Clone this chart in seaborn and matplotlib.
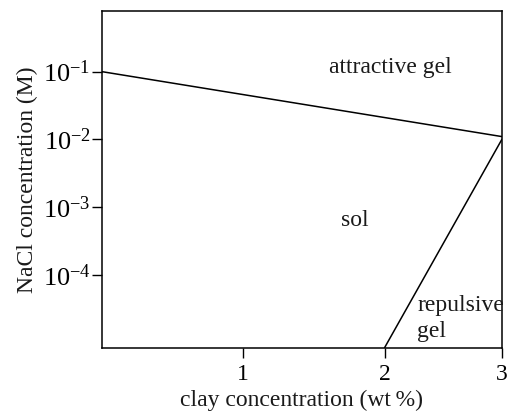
# Clay phase diagram (sol / attractive gel / repulsive gel)

import matplotlib
matplotlib.use("Agg")
import matplotlib.pyplot as plt
import numpy as np
import pandas as pd
import seaborn as sns
from matplotlib.ticker import NullLocator

# boundary lines
upper_clay = [0.0, 3.0]
upper_nacl = [1.0e-1, 1.1e-2]
lower_clay = [2.0, 3.0]
lower_nacl = [8.4e-6, 1.0e-2]

x_ticks = [1, 2, 3]
y_ticks = [1e-4, 1e-3, 1e-2, 1e-1]

region_labels = ["attractive gel", "sol", "repulsive\ngel"]
region_x = [2.05, 1.79, 2.28]
region_y = [1.15e-1, 6.3e-4, 2.25e-5]

# the original x axis is squeezed between 2 and 3 wt%
SQUEEZE = 0.83


def fwd(x):
    x = np.asarray(x, dtype=float)
    return np.where(x <= 2, x, 2 + (x - 2) * SQUEEZE)


def inv(y):
    y = np.asarray(y, dtype=float)
    return np.where(y <= 2, y, 2 + (y - 2) / SQUEEZE)


sns.set_theme(style="ticks")
plt.rcParams["font.family"] = ["Liberation Serif", "DejaVu Serif"]
plt.rcParams["mathtext.fontset"] = "stix"

fig, ax = plt.subplots(figsize=(5.09, 4.16), dpi=100)

df = pd.DataFrame({
    "clay": upper_clay + lower_clay,
    "nacl": upper_nacl + lower_nacl,
    "line": ["upper"] * 2 + ["lower"] * 2,
})
sns.lineplot(data=df, x="clay", y="nacl", units="line", estimator=None,
             color="black", linewidth=1.1, ax=ax, legend=False)

ax.set_xscale("function", functions=(fwd, inv))
ax.set_yscale("log")
ax.set_xlim(0, 3)
ax.set_ylim(8.4e-6, 0.79)
ax.set_xticks(x_ticks)
ax.set_xticklabels([str(t) for t in x_ticks])
ax.xaxis.set_minor_locator(NullLocator())
ax.set_yticks(y_ticks)
ax.yaxis.set_minor_locator(NullLocator())

for lab, xx, yy in zip(region_labels, region_x, region_y):
    ha = "left" if "\n" in lab else "center"
    ax.text(xx, yy, lab, ha=ha, va="center", fontsize=17, color="#1a1a1a",
            linespacing=1.32)

for s in ax.spines.values():
    s.set_visible(True)
    s.set_linewidth(1.1)
    s.set_color("black")
ax.tick_params(direction="out", length=7, width=1, colors="black", pad=1)
ax.tick_params(axis="y", labelsize=19)
ax.tick_params(axis="x", labelsize=17, pad=5)
ax.set_xlabel("clay concentration (wt\u2009%)", fontsize=17, color="#1a1a1a", labelpad=3)
ax.set_ylabel("NaCl concentration (M)", fontsize=17, color="#1a1a1a", labelpad=3)

fig.subplots_adjust(left=0.2, right=0.986, top=0.974, bottom=0.164)
fig.savefig("out.png", dpi=100)
